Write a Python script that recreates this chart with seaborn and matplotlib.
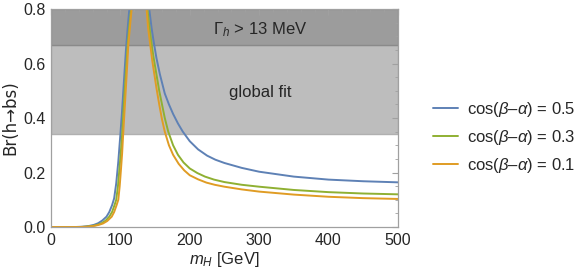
import numpy as np
import pandas as pd
import seaborn as sns
import matplotlib
matplotlib.use("Agg")
import matplotlib.pyplot as plt
from matplotlib.ticker import MultipleLocator, FormatStrFormatter

# values (Br(h->bs) vs m_H), peak above 0.8 is clipped
m_blue = [0, 35, 45, 55, 62, 68, 74, 80, 84, 88, 91, 94, 97, 99.4, 102, 105, 108, 110.5,
          112.9, 115.5, 118, 125, 136, 139, 141.6, 145, 148, 152, 157, 164, 170, 176, 183,
          190, 200, 212, 225, 237, 250, 275, 300, 350, 400, 450, 500]
br_blue = [0, 0.0, 0.001, 0.004, 0.008, 0.014, 0.024, 0.038, 0.055, 0.08, 0.105, 0.16, 0.24,
           0.32, 0.41, 0.53, 0.65, 0.73, 0.80, 0.88, 1.0, 1.2, 1.0, 0.88, 0.80, 0.73, 0.68,
           0.62, 0.56, 0.49, 0.45, 0.415, 0.38, 0.35, 0.315, 0.285, 0.262, 0.247, 0.235,
           0.217, 0.203, 0.185, 0.174, 0.168, 0.164]

m_green = [0, 40, 50, 60, 67, 73, 79, 84, 88, 91.5, 94, 96.5, 98.5, 100.5, 102.5, 105, 108,
           110.5, 113, 115.5, 118, 120.5, 125, 134, 136.5, 139, 142, 145, 148, 152, 156, 160,
           164, 169, 176, 183, 191, 200, 211, 222, 235, 250, 275, 300, 350, 400, 450, 500]
br_green = [0, 0.0, 0.001, 0.004, 0.008, 0.014, 0.024, 0.038, 0.055, 0.08, 0.10, 0.15, 0.21,
            0.27, 0.34, 0.45, 0.57, 0.668, 0.74, 0.80, 0.88, 1.0, 1.2, 1.0, 0.88, 0.80, 0.73,
            0.67, 0.62, 0.56, 0.50, 0.45, 0.40, 0.35, 0.30, 0.265, 0.237, 0.215, 0.198, 0.185,
            0.174, 0.165, 0.155, 0.148, 0.136, 0.128, 0.123, 0.12]

m_orange = [0, 42, 52, 62, 69, 75, 81, 87.5, 91, 94.5, 97, 99, 100.8, 102.5, 104, 107, 109.5,
            111.4, 114, 116.2, 118.5, 121, 125, 133, 135.5, 137.8, 140, 143, 146, 149, 152,
            156, 160, 164, 170, 176, 184, 192, 200, 212, 224, 236, 250, 275, 300, 350, 400,
            450, 500]
br_orange = [0, 0.0, 0.001, 0.004, 0.008, 0.013, 0.022, 0.038, 0.055, 0.08, 0.10, 0.15, 0.21,
             0.27, 0.34, 0.47, 0.58, 0.668, 0.74, 0.80, 0.88, 1.0, 1.2, 1.0, 0.88, 0.80, 0.73,
             0.67, 0.61, 0.56, 0.51, 0.45, 0.395, 0.35, 0.30, 0.265, 0.232, 0.208, 0.19,
             0.175, 0.163, 0.155, 0.148, 0.138, 0.13, 0.119, 0.111, 0.106, 0.103]

labels = ["cos($\\beta$\u2013$\\alpha$) = 0.5",
          "cos($\\beta$\u2013$\\alpha$) = 0.3",
          "cos($\\beta$\u2013$\\alpha$) = 0.1"]
colors = ["#5E81B5", "#8FB032", "#E09C24"]

band_fit = (0.34, 0.668)
band_width = (0.668, 0.8)

df = pd.concat([
    pd.DataFrame({"mH": m_blue, "Br": br_blue, "curve": labels[0]}),
    pd.DataFrame({"mH": m_green, "Br": br_green, "curve": labels[1]}),
    pd.DataFrame({"mH": m_orange, "Br": br_orange, "curve": labels[2]}),
])

sns.set_style("white")
plt.rcParams["font.family"] = ["Liberation Sans", "DejaVu Sans"]
plt.rcParams["mathtext.fontset"] = "custom"
plt.rcParams["mathtext.rm"] = "Liberation Sans"
plt.rcParams["mathtext.it"] = "Liberation Sans:italic"

fig = plt.figure(figsize=(5.81, 2.75), dpi=100)
ax = fig.add_axes([0.0878, 0.1745, 0.597, 0.7925])

# shaded regions
ax.axhspan(*band_fit, facecolor="#bdbdbd", edgecolor="#b0b0b0", lw=1.0, zorder=0)
ax.axhspan(*band_width, facecolor="#9c9c9c", edgecolor="#8a8a8a", lw=1.0, zorder=0)

sns.lineplot(data=df, x="mH", y="Br", hue="curve", palette=colors,
             estimator=None, sort=False, lw=1.4, ax=ax, legend=True)

ax.text(302, 0.726, "$\\Gamma_h$ > 13 MeV", ha="center", va="center", fontsize=12)
ax.text(302, 0.495, "global fit", ha="center", va="center", fontsize=12)

ax.set_xlim(0, 500)
ax.set_ylim(0, 0.8)
ax.xaxis.set_major_locator(MultipleLocator(100))
ax.xaxis.set_minor_locator(MultipleLocator(20))
ax.yaxis.set_major_locator(MultipleLocator(0.2))
ax.yaxis.set_minor_locator(MultipleLocator(0.05))
ax.yaxis.set_major_formatter(FormatStrFormatter("%.1f"))
ax.tick_params(which="both", direction="in", top=True, right=True,
               color="#a0a0a0", labelsize=11.5, pad=4)
ax.tick_params(which="major", length=4, width=0.8)
ax.tick_params(which="minor", length=2, width=0.6)
for s in ax.spines.values():
    s.set_color("#a0a0a0")
    s.set_linewidth(0.9)

ax.set_xlabel("$m_H$ [GeV]", fontsize=12, labelpad=2)
ax.set_ylabel("Br(h\u2192bs)", fontsize=12, labelpad=3, family=["DejaVu Sans"])

h, l = ax.get_legend_handles_labels()
ax.get_legend().remove()
fig.legend(h, l, loc="center left", bbox_to_anchor=(0.72, 0.50), frameon=False,
           fontsize=12, handlelength=1.5, handletextpad=0.5, labelspacing=0.55)

fig.savefig("out.png", dpi=100)
